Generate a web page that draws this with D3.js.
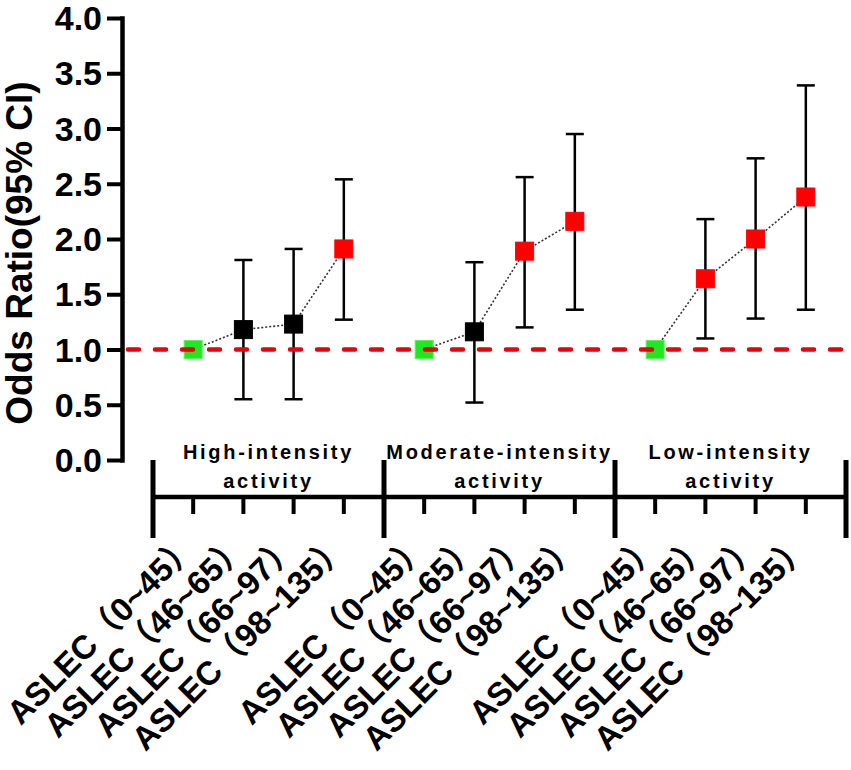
<!DOCTYPE html>
<html>
<head>
<meta charset="utf-8">
<script src="https://cdn.jsdelivr.net/npm/d3@7"></script>
<style>
  body { margin: 0; background: #fff; }
  svg { display: block; }
  text { font-family: "Liberation Sans", Arial, "Noto Sans CJK SC", sans-serif; font-weight: bold; fill: #000; }
</style>
</head>
<body>
<svg id="chart" width="851" height="770"></svg>
<script>
// activity groups and ASLEC score bands
var groups = ["High-intensity activity", "Moderate-intensity activity", "Low-intensity activity"];
var groupLines = [["High-intensity", "activity"], ["Moderate-intensity", "activity"], ["Low-intensity", "activity"]];
var levels = ["ASLEC（0~45）", "ASLEC（46~65）", "ASLEC（66~97）", "ASLEC（98~135）"];

// odds ratios with 95% CI (first band is the reference, no CI)
var oddsRatio = [[1.00, 1.18, 1.23, 1.91], [1.00, 1.16, 1.89, 2.16], [1.00, 1.64, 2.00, 2.38]];
var ciLower   = [[null, 0.55, 0.55, 1.27], [null, 0.52, 1.20, 1.36], [null, 1.10, 1.28, 1.36]];
var ciUpper   = [[null, 1.81, 1.91, 2.54], [null, 1.79, 2.56, 2.95], [null, 2.18, 2.73, 3.39]];

var yTicks = [0, 0.5, 1.0, 1.5, 2.0, 2.5, 3.0, 3.5, 4.0];
var refValue = 1.0;

var svg = d3.select("#chart");

var y = d3.scaleLinear().domain([0, 4]).range([460, 18]);

var xGroup = d3.scaleBand().domain(groups).range([153, 846]);
var xLevel = d3.scalePoint().domain(levels).range([0, xGroup.bandwidth()]).padding(0.8);

// flatten into points
var points = [];
groups.forEach(function(g, gi) {
    levels.forEach(function(l, li) {
        points.push({
            group: g, level: l,
            or: oddsRatio[gi][li], lo: ciLower[gi][li], hi: ciUpper[gi][li],
            x: xGroup(g) + xLevel(l)
        });
    });
});

function colour(d) {
    if (d.lo === null) return "#22e622";
    return d.lo > 1 ? "#ff0000" : "#000000";
}

// y axis
var yAxis = svg.append("g")
    .attr("transform", "translate(122,0)")
    .call(d3.axisLeft(y).tickValues(yTicks).tickSize(15).tickSizeOuter(0).tickPadding(5).tickFormat(d3.format(".1f")));
yAxis.select(".domain").attr("stroke", "#000").attr("stroke-width", 4.5).attr("stroke-linecap", "square");
yAxis.selectAll(".tick line").attr("stroke", "#000").attr("stroke-width", 4);
yAxis.selectAll(".tick text").style("font-size", "34px").attr("fill", "#000").attr("dy", "0.34em");

svg.append("text")
    .attr("transform", "translate(32,253) rotate(-90)")
    .attr("text-anchor", "middle")
    .style("font-size", "37px")
    .text("Odds Ratio(95% CI)");

// grouped category axis
var axisY = 497;
var ax = svg.append("g");
ax.append("line")
    .attr("x1", xGroup.range()[0]).attr("x2", xGroup.range()[1])
    .attr("y1", axisY).attr("y2", axisY)
    .attr("stroke", "#000").attr("stroke-width", 4.5);

var dividers = groups.map(function(g) { return xGroup(g); }).concat([xGroup.range()[1]]);
ax.selectAll(".divider")
    .data(dividers)
    .enter().append("line")
    .attr("class", "divider")
    .attr("x1", function(d) { return d; }).attr("x2", function(d) { return d; })
    .attr("y1", 460).attr("y2", 538)
    .attr("stroke", "#000").attr("stroke-width", 5);

ax.selectAll(".minor")
    .data(points)
    .enter().append("line")
    .attr("class", "minor")
    .attr("x1", function(d) { return d.x; }).attr("x2", function(d) { return d.x; })
    .attr("y1", axisY).attr("y2", 514)
    .attr("stroke", "#000").attr("stroke-width", 4);

var gl = ax.selectAll(".glabel")
    .data(groups)
    .enter().append("text")
    .attr("class", "glabel")
    .attr("text-anchor", "middle")
    .style("font-size", "20px")
    .style("letter-spacing", "2.7px");
gl.append("tspan")
    .attr("x", function(d) { return xGroup(d) + xGroup.bandwidth() / 2; })
    .attr("y", 459)
    .text(function(d, i) { return groupLines[i][0]; });
gl.append("tspan")
    .attr("x", function(d) { return xGroup(d) + xGroup.bandwidth() / 2; })
    .attr("y", 488)
    .text(function(d, i) { return groupLines[i][1]; });

ax.selectAll(".xlabel")
    .data(points)
    .enter().append("text")
    .attr("class", "xlabel")
    .attr("text-anchor", "end")
    .attr("transform", function(d) { return "translate(" + (d.x + 6) + ",548) rotate(-45)"; })
    .style("font-size", "33px")
    .text(function(d) { return d.level; });

// dotted connectors within each group
var line = d3.line()
    .x(function(d) { return d.x; })
    .y(function(d) { return y(d.or); });

svg.selectAll(".connector")
    .data(groups)
    .enter().append("path")
    .attr("class", "connector")
    .attr("d", function(g) { return line(points.filter(function(p) { return p.group === g; })); })
    .attr("fill", "none")
    .attr("stroke", "#333")
    .attr("stroke-width", 1.6)
    .attr("stroke-dasharray", "2,2");

// error bars
var withCI = points.filter(function(d) { return d.lo !== null; });
var eb = svg.selectAll(".errbar")
    .data(withCI)
    .enter().append("g")
    .attr("class", "errbar")
    .attr("stroke", "#000")
    .attr("stroke-width", 2.5);
eb.append("line")
    .attr("x1", function(d) { return d.x; }).attr("x2", function(d) { return d.x; })
    .attr("y1", function(d) { return y(d.hi); }).attr("y2", function(d) { return y(d.lo); });
eb.append("line")
    .attr("x1", function(d) { return d.x - 9; }).attr("x2", function(d) { return d.x + 9; })
    .attr("y1", function(d) { return y(d.hi); }).attr("y2", function(d) { return y(d.hi); });
eb.append("line")
    .attr("x1", function(d) { return d.x - 9; }).attr("x2", function(d) { return d.x + 9; })
    .attr("y1", function(d) { return y(d.lo); }).attr("y2", function(d) { return y(d.lo); });

// square markers
var size = 18;
svg.selectAll(".marker")
    .data(points)
    .enter().append("rect")
    .attr("class", "marker")
    .attr("x", function(d) { return d.x - size / 2; })
    .attr("y", function(d) { return y(d.or) - size / 2; })
    .attr("width", size)
    .attr("height", size)
    .attr("fill", colour)
    .attr("stroke", function(d) { return d.lo === null ? "#5cf05c" : colour(d); })
    .attr("stroke-width", 1);

// reference line at OR = 1
svg.append("line")
    .attr("x1", 128).attr("x2", 843)
    .attr("y1", y(refValue)).attr("y2", y(refValue))
    .attr("stroke", "#e8000b")
    .attr("stroke-width", 4.5)
    .attr("stroke-linecap", "round")
    .attr("stroke-dasharray", "11,16");
</script>
</body>
</html>
